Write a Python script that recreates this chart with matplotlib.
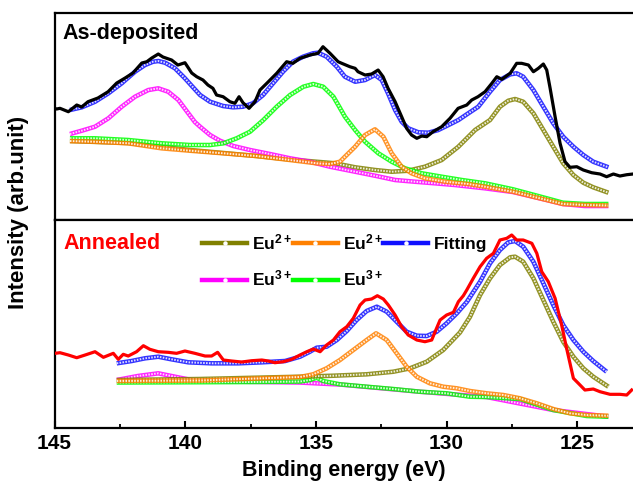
import matplotlib
matplotlib.use('Agg')
import matplotlib.pyplot as plt
from matplotlib.lines import Line2D
from matplotlib.ticker import MultipleLocator

plt.rcParams['font.family'] = ['Liberation Sans', 'DejaVu Sans']
plt.rcParams['font.weight'] = 'bold'
plt.rcParams['mathtext.fontset'] = 'custom'
plt.rcParams['mathtext.rm'] = 'Liberation Sans:bold'
plt.rcParams['mathtext.bf'] = 'Liberation Sans:bold'
plt.rcParams['mathtext.default'] = 'bf'

# ---------------- As-deposited (top panel) ----------------
dep_e = [144.98, 144.92, 144.79, 144.47, 144.15, 143.96, 143.72, 143.34, 142.95, 142.62,
         142.30, 142.00, 141.66, 141.47, 141.28, 141.03, 140.85, 140.52, 140.28, 140.01,
         139.75, 139.56, 139.32, 139.13, 138.94, 138.80, 138.55, 138.29, 138.10, 137.94,
         137.79, 137.56, 137.33, 137.14, 136.88, 136.50, 136.12, 135.88, 135.61, 135.23,
         134.92, 134.73, 134.46, 134.15, 134.01, 133.70, 133.50, 133.39, 133.12, 132.87,
         132.62, 132.43, 132.24, 131.97, 131.72, 131.53, 131.34, 131.14, 130.95, 130.76,
         130.52, 130.19, 129.87, 129.56, 129.23, 129.04, 128.80, 128.53, 128.27, 128.08,
         127.89, 127.57, 127.32, 127.13, 126.87, 126.68, 126.49, 126.30, 126.17, 126.04,
         125.85, 125.66, 125.47, 125.28, 125.02, 124.77, 124.45, 124.13, 123.88, 123.62,
         123.37, 123.11, 122.87]
dep_raw = [111.5, 111, 111.7, 108.3, 115, 113, 118.3, 122, 128.3, 137,
           142, 147, 157, 158.3, 162, 166, 163, 160, 155, 157.3,
           147, 143.3, 140, 135, 131.7, 125, 123.3, 118.3, 116.7, 123.3,
           117.3, 111.7, 118.3, 130, 136.7, 146.7, 158.3, 156.7, 161.7, 165,
           166.7, 173.3, 166.7, 158.3, 156.7, 153.3, 151.7, 148.3, 145, 146,
           150, 143.3, 131.7, 118.3, 103.3, 91.7, 85, 81.7, 84, 83.3,
           88.3, 93.3, 101.7, 111.7, 115, 120, 123.3, 128.3, 136.7, 143.3,
           140.7, 146.7, 156.7, 156.7, 155, 148.3, 151.7, 156, 150, 131.7,
           103.3, 76.7, 58.3, 52.7, 53.3, 50, 47.3, 46, 43.3, 46,
           44, 45.3, 46]

dep_fit_e = [144.41, 143.96, 143.45, 142.94, 142.43, 141.92, 141.54, 141.23, 141.03, 140.77,
             140.39, 140.01, 139.70, 139.43, 139.05, 138.55, 138.17, 137.79, 137.41, 137.02,
             136.64, 136.26, 135.88, 135.49, 135.11, 134.92, 134.59, 134.20, 133.89, 133.50,
             133.12, 132.74, 132.48, 132.24, 131.97, 131.72, 131.47, 131.08, 130.70, 130.32,
             129.93, 129.55, 129.17, 128.79, 128.34, 127.96, 127.57, 127.32, 127.07, 126.68,
             126.30, 125.92, 125.54, 125.15, 124.77, 124.39, 123.81]
dep_fit = [110, 112.7, 118.3, 126.7, 136.7, 148.3, 155, 158.3, 159, 157.3,
           151.7, 141.7, 132.7, 125, 118.3, 114, 112.7, 113.3, 116.7, 125,
           136.7, 148.3, 158.3, 163.3, 166.7, 167.3, 163.3, 153.3, 143.3, 138.3,
           140, 145, 140, 126.7, 110, 98.3, 91.7, 87.7, 87.3, 90,
           95, 100, 106.7, 113.3, 128.3, 140, 145.7, 146.7, 143.3, 130,
           113.3, 96.7, 83.3, 73.3, 65, 58.3, 52.7]

dep_eu3a_e = [144.41, 143.96, 143.45, 142.94, 142.43, 141.92, 141.41, 141.03, 140.65, 140.26,
              139.88, 139.63, 139.43, 139.05, 138.67, 138.16, 137.52, 136.76, 135.99, 135.23,
              134.46, 133.50, 132.74, 131.97, 131.21, 130.44, 129.68, 128.53, 127.46, 126.17,
              125.55, 124.71, 123.81]
dep_eu3a = [86, 89.3, 93.3, 101.7, 113.3, 123.3, 130, 131.7, 128.3, 120,
            106.7, 98, 93.3, 85, 79.3, 74, 70, 66, 61.7, 58.3,
            53.3, 48.3, 44.3, 40, 38.3, 36.7, 35, 31.7, 28, 20,
            16, 14, 14]

dep_eu3b_e = [144.41, 143.45, 142.18, 140.90, 139.82, 139.05, 138.54, 138.03, 137.52, 137.01,
              136.50, 135.99, 135.48, 135.10, 134.72, 134.33, 134.08, 133.89, 133.50, 133.12,
              132.61, 132.10, 131.59, 130.95, 130.19, 129.42, 128.53, 127.46, 126.17, 125.55,
              124.71, 123.81]
dep_eu3b = [81.7, 81.7, 80, 76.7, 75, 75, 76.7, 81.7, 88.3, 100,
            113.3, 125, 133.3, 136, 133.3, 123.3, 112, 103.3, 90, 78.3,
            66.7, 58.3, 51.7, 46.7, 43.3, 40, 36.7, 30.7, 21.7, 17.3,
            16, 16]

dep_eu2b_e = [144.41, 143.45, 142.18, 140.90, 139.82, 138.54, 137.27, 135.99, 134.97, 134.46,
              134.08, 133.89, 133.50, 133.12, 132.74, 132.42, 132.10, 131.72, 131.34, 130.83,
              130.06, 129.17, 128.53, 127.46, 126.17, 125.55, 124.71, 123.81]
dep_eu2b = [79, 78.3, 76.7, 71.7, 69.3, 66.7, 64, 60, 56.7, 56,
            58.3, 63.3, 73.3, 85, 90.7, 83.3, 66.7, 53.3, 46.7, 41.7,
            38.3, 36, 33.3, 28.3, 20, 16, 15, 14.5]

dep_eu2a_e = [144.41, 142.18, 139.82, 137.27, 135.99, 134.27, 133.50, 132.74, 132.10, 131.47,
              130.83, 130.19, 129.55, 128.91, 128.34, 127.96, 127.64, 127.38, 127.07, 126.68,
              126.30, 125.92, 125.54, 125.15, 124.77, 124.39, 123.81]
dep_eu2a = [79, 77, 70, 64, 60.5, 56.7, 52.7, 50, 48.3, 49.3,
            53.3, 60, 73.3, 90, 100, 113.3, 119.3, 121, 118.3, 106.7,
            90, 73.3, 56.7, 45, 37.3, 32.7, 27.3]

# ---------------- Annealed (bottom panel) ----------------
ann_e = [144.98, 144.79, 144.47, 144.15, 143.83, 143.45, 143.13, 142.75, 142.56, 142.37,
         142.18, 141.86, 141.60, 141.35, 141.03, 140.65, 140.33, 140.01, 139.63, 139.24,
         138.99, 138.76, 138.54, 138.22, 137.84, 137.46, 137.07, 136.82, 136.57, 136.25,
         135.93, 135.61, 135.35, 135.10, 134.84, 134.59, 134.33, 134.08, 133.82, 133.57,
         133.31, 133.12, 132.87, 132.65, 132.42, 132.23, 131.97, 131.72, 131.47, 131.14,
         130.83, 130.57, 130.44, 130.25, 130.00, 129.74, 129.55, 129.36, 129.23, 128.98,
         128.72, 128.47, 128.21, 127.96, 127.70, 127.51, 127.32, 127.07, 126.74, 126.55,
         126.36, 126.11, 125.85, 125.60, 125.41, 125.15, 124.96, 124.71, 124.39, 124.13,
         123.75, 123.37, 123.11, 122.92]
ann_raw = [74.7, 75.3, 73, 70.3, 73, 76.3, 70.7, 74.7, 68.7, 73.7,
           72, 76.3, 82.3, 78.7, 76.3, 75.7, 74.7, 77, 74.7, 72,
           72, 75.7, 68, 67, 66, 67.3, 68, 67, 65.3, 66.3,
           68.7, 73, 76.3, 79, 76.3, 83, 88, 96.3, 101.3, 109.7,
           123, 128, 129, 132.3, 129, 123, 113, 101.3, 93, 88,
           86.3, 88, 96.3, 108, 113, 115.7, 126.3, 132.3, 138, 149.7,
           161.3, 169.7, 174.7, 188, 189.7, 193, 188, 188, 184.7, 174.7,
           156.3, 146.3, 129.7, 103, 79.7, 49.7, 44.7, 38, 39, 36.3,
           33.7, 33.7, 33, 38]

ann_fit_e = [142.62, 142.05, 141.54, 141.03, 140.52, 139.88, 138.99, 137.97, 137.07, 136.18,
             135.61, 135.23, 134.97, 134.59, 134.20, 133.82, 133.44, 133.06, 132.67, 132.29,
             131.91, 131.53, 131.14, 130.76, 130.38, 130.00, 129.61, 129.23, 128.72, 128.34,
             127.96, 127.64, 127.38, 127.07, 126.68, 126.30, 125.92, 125.54, 125.15, 124.77,
             124.39, 123.88]
ann_fit = [64.7, 67, 69.7, 71.3, 68.7, 65.7, 64.7, 64.7, 65.7, 67,
           71.3, 76.3, 80.3, 81.3, 88, 97, 108, 117, 121.3, 116.3,
           106.3, 96.3, 92.3, 92, 96.3, 104.7, 114.7, 126, 146.3, 164.7,
           178, 185.7, 187, 181.3, 166.3, 144.7, 123, 103, 88, 76.3,
           67, 56.3]

ann_eu2a_e = [142.62, 139.43, 135.61, 134.33, 133.06, 132.04, 131.40, 130.76, 130.13, 129.49,
              129.11, 128.72, 128.34, 127.96, 127.57, 127.38, 127.07, 126.68, 126.30, 125.92,
              125.54, 125.15, 124.77, 124.39, 123.81]
ann_eu2a = [48, 49, 51.3, 52.3, 53.7, 56.3, 59.7, 66.3, 78, 95.5,
            111, 133, 149.7, 163, 170.7, 171.3, 166.3, 149.7, 128, 106.3,
            86.3, 71.3, 59.7, 51.3, 41.3]

ann_eu2b_e = [142.62, 139.43, 135.61, 135.10, 134.59, 134.08, 133.57, 133.06, 132.70, 132.29,
              131.91, 131.53, 131.14, 130.64, 130.13, 129.61, 129.11, 128.47, 127.83, 127.19,
              126.55, 125.92, 125.28, 124.64, 123.81]
ann_eu2b = [47, 47.5, 51, 53.7, 59.7, 68, 78, 88, 94.7, 88,
            74.7, 61.3, 51.3, 44.7, 41.3, 39.7, 37, 34.7, 33, 29.7,
            24.7, 19, 14.7, 13, 12.3]

ann_eu3a_e = [142.62, 141.81, 141.03, 140.28, 139.75, 138.29, 135.61, 134.08, 131.02, 128.47,
              125.92, 123.81]
ann_eu3a = [48, 52, 54.7, 50.7, 48, 46.5, 45.5, 43.5, 36.3, 31,
            18, 11.3]

ann_eu3b_e = [142.62, 137.52, 135.61, 135.23, 134.97, 134.72, 134.08, 133.06, 132.04, 131.02,
              130.00, 129.11, 128.47, 127.19, 125.92, 124.64, 123.81]
ann_eu3b = [45.5, 46, 46.5, 48, 50.3, 47, 43.7, 41.3, 39, 36.3,
            34.7, 31.3, 31, 29, 18, 12, 11.3]

OLIVE = '#808000'
ORANGE = '#FF8000'
BLUE = '#1010FF'
MAGENTA = '#FF00FF'
GREEN = '#00FF00'


def fit_line(ax, x, y, color):
    # thick coloured band with a white dotted core, like hollow square markers
    ax.plot(x, y, color=color, lw=3.3, solid_capstyle='butt', solid_joinstyle='round',
            alpha=0.85, zorder=2)
    ax.plot(x, y, color='white', lw=1.4, ls=(0, (0.8, 0.7)), alpha=0.85, zorder=2)


fig = plt.figure(figsize=(6.33, 4.86), dpi=100)
ax1 = fig.add_axes([0.0861, 0.5473, 0.9139, 0.4259])
ax2 = fig.add_axes([0.0861, 0.1193, 0.9139, 0.4280])

# top panel
fit_line(ax1, dep_eu2a_e, dep_eu2a, OLIVE)
fit_line(ax1, dep_eu3a_e, dep_eu3a, MAGENTA)
fit_line(ax1, dep_eu3b_e, dep_eu3b, GREEN)
fit_line(ax1, dep_eu2b_e, dep_eu2b, ORANGE)
fit_line(ax1, dep_fit_e, dep_fit, BLUE)
ax1.plot(dep_e, dep_raw, color='black', lw=2.3, zorder=3)
ax1.text(0.013, 0.903, 'As-deposited', transform=ax1.transAxes, fontsize=15.5,
         fontweight='bold', va='center', ha='left')
ax1.set_ylim(0, 207)

# bottom panel
fit_line(ax2, ann_eu3a_e, ann_eu3a, MAGENTA)
fit_line(ax2, ann_eu3b_e, ann_eu3b, GREEN)
fit_line(ax2, ann_eu2a_e, ann_eu2a, OLIVE)
fit_line(ax2, ann_eu2b_e, ann_eu2b, ORANGE)
fit_line(ax2, ann_fit_e, ann_fit, BLUE)
ax2.plot(ann_e, ann_raw, color='red', lw=2.3, zorder=3)
ax2.text(0.015, 0.889, 'Annealed', transform=ax2.transAxes, fontsize=15.5,
         fontweight='bold', color='red', va='center', ha='left')
ax2.set_ylim(0, 208)

for ax in (ax1, ax2):
    ax.set_xlim(145, 122.87)
    ax.set_yticks([])
    ax.spines['right'].set_visible(False)
    for s in ('left', 'top', 'bottom'):
        ax.spines[s].set_linewidth(1.6)

ax1.set_xticks([])

ax2.xaxis.set_major_locator(MultipleLocator(5))
ax2.xaxis.set_minor_locator(MultipleLocator(2.5))
ax2.tick_params(axis='x', which='major', direction='in', length=5, width=1.5,
                labelsize=15, pad=4, top=False)
ax2.tick_params(axis='x', which='minor', direction='in', length=3, width=1.3, top=False)
for lab in ax2.get_xticklabels():
    lab.set_fontweight('bold')
ax2.set_xlabel('Binding energy (eV)', fontsize=15.5, fontweight='bold', labelpad=5)

fig.text(0.03, 0.563, 'Intensity (arb.unit)', rotation=90, fontsize=16,
         fontweight='bold', ha='center', va='center')

# legend: order fills columns -> (olive, magenta), (orange, green), (blue)
def handle(color):
    return Line2D([], [], color=color, lw=3.2, marker='o', markersize=2.2,
                  markerfacecolor='white', markeredgecolor='white')

handles = [handle(OLIVE), handle(MAGENTA), handle(ORANGE), handle(GREEN), handle(BLUE)]
labels = ['Eu$^{2+}$', 'Eu$^{3+}$', 'Eu$^{2+}$', 'Eu$^{3+}$', 'Fitting']
leg = ax2.legend(handles, labels, ncol=3, loc='upper left', bbox_to_anchor=(0.255, 0.94),
                 frameon=False, handlelength=2.6, handletextpad=0.3,
                 columnspacing=0.0, labelspacing=0.95, borderpad=0, borderaxespad=0,
                 prop={'weight': 'bold', 'size': 12.5})

fig.savefig('out.png', dpi=100)
